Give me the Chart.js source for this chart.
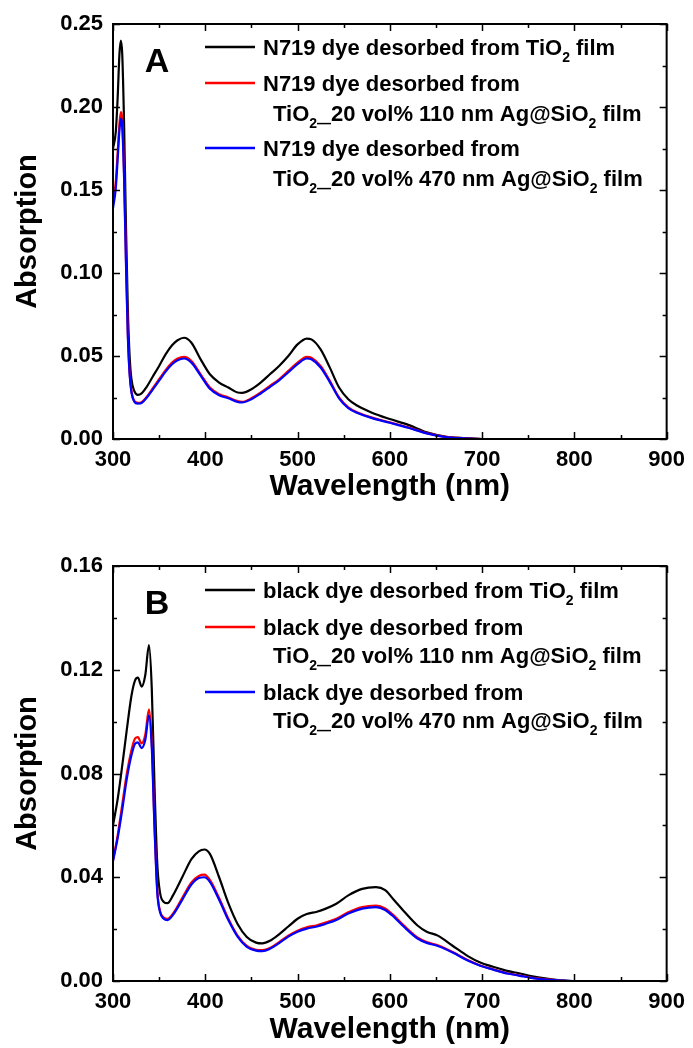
<!DOCTYPE html>
<html>
<head>
<meta charset="utf-8">
<script src="https://cdn.jsdelivr.net/npm/chart.js@4.4.1/dist/chart.umd.min.js"></script>
<style>
  html, body { margin: 0; padding: 0; background: #fff; }
  canvas { display: block; }
</style>
</head>
<body>
<canvas id="chartA" width="693" height="524"></canvas>
<canvas id="chartB" width="693" height="524"></canvas>
<script>
// ---- panel A : N719 dye ----
const wlA = [300,303,305,307,308.5,310,312,314,316,318,320,323,327,331,336,343,350,357,364,370,377,
  385,395,405,415,425,435,440,450,460,470,480,490,500,510,515,525,535,545,555,565,580,
  600,620,640,660,680,700,750,800,850,900];
const n719TiO2 = [.175,.185,.205,.232,.240,.232,.19,.13,.08,.05,.036,.029,.0266,.0275,.031,.0375,.044,.051,.0565,.0595,.061,
  .058,.048,.039,.034,.031,.028,.0278,.030,.034,.039,.044,.050,.057,.0605,.060,.054,.043,.031,.024,.020,.016,
  .012,.0085,.004,.0015,.0005,0,0,0,0,0];
const n719Ag110 = [.143,.155,.172,.19,.197,.192,.16,.11,.065,.04,.029,.023,.0218,.0222,.025,.0305,.036,.0415,.046,.0485,.0495,
  .047,.039,.031,.027,.025,.0228,.0224,.0245,.028,.032,.036,.041,.046,.0495,.049,.044,.035,.025,.019,.016,.013,
  .010,.007,.0035,.0013,.0004,0,0,0,0,0];
const n719Ag470 = [.139,.151,.168,.186,.193,.188,.157,.107,.063,.039,.028,.0225,.0213,.0217,.0245,.0298,.0352,.0406,.045,.0475,.0485,
  .046,.0382,.0303,.0264,.0245,.0223,.022,.024,.0274,.0313,.0353,.0402,.0451,.0485,.048,.0431,.0343,.0245,.0186,.0157,.0127,
  .0098,.0068,.0034,.0012,.0004,0,0,0,0,0];

// ---- panel B : black dye ----
const wlB = [300,305,310,315,320,324,327,331,335,339,342,345,348,351,355,359,365,375,385,393,
  399,405,415,425,435,445,455,462,470,480,490,500,510,521,530,542,555,570,585,595,
  605,615,630,640,652,668,685,698,712,727,740,753,770,785,800,850,900];
const blackTiO2 = [.060,.070,.083,.097,.110,.116,.117,.1135,.118,.1295,.113,.075,.045,.034,.0305,.030,.033,.040,.047,.050,
  .0507,.049,.040,.030,.022,.017,.0148,.0145,.0155,.018,.021,.024,.0258,.0267,.0278,.0298,.033,.0355,.0362,.035,
  .031,.027,.0214,.019,.0175,.0136,.0095,.0071,.0055,.0039,.003,.0019,.0009,.0003,0,0,0];
const blackAg110 = [.0466,.056,.068,.080,.089,.0935,.094,.0916,.095,.1047,.092,.06,.035,.027,.0245,.024,.026,.032,.038,.0405,
  .041,.039,.032,.024,.0175,.0135,.012,.0119,.0127,.015,.0175,.0194,.0207,.0215,.0225,.024,.0265,.0285,.0291,.028,
  .025,.0215,.0168,.015,.0138,.0112,.008,.006,.0045,.003,.0022,.0013,.0006,.0002,0,0,0];
const blackAg470 = [.0462,.055,.066,.078,.087,.0915,.092,.0898,.093,.1024,.09,.059,.034,.0265,.024,.0235,.0255,.0313,.0372,.0397,
  .040,.0382,.0313,.0235,.0171,.0132,.0117,.0115,.0124,.0146,.0171,.019,.0202,.021,.022,.0235,.026,.0279,.0285,.0274,
  .0245,.021,.0164,.0147,.0135,.011,.0078,.0059,.0044,.0029,.0021,.0012,.0005,.0002,0,0,0];

// ticks
const xTicks = [300, 400, 500, 600, 700, 800, 900];
const yTicksA = [0, 0.05, 0.10, 0.15, 0.20, 0.25];
const yTicksB = [0, 0.04, 0.08, 0.12, 0.16];

// legend texts (_{..} = subscript)
const legendA = [
  ['N719 dye desorbed from TiO_{2} film'],
  ['N719 dye desorbed from', 'TiO_{2—}20 vol% 110 nm Ag@SiO_{2} film'],
  ['N719 dye desorbed from', 'TiO_{2—}20 vol% 470 nm Ag@SiO_{2} film']
];
const legendB = [
  ['black dye desorbed from TiO_{2} film'],
  ['black dye desorbed from', 'TiO_{2—}20 vol% 110 nm Ag@SiO_{2} film'],
  ['black dye desorbed from', 'TiO_{2—}20 vol% 470 nm Ag@SiO_{2} film']
];
const colors = ['#000000', '#ff0000', '#0000ff'];

const FONT = "'Liberation Sans', Arial, Helvetica, sans-serif";

function drawRich(ctx, str, x, y, size) {
  // y = vertical centre of capitals
  const base = y + size * 0.36;
  const parts = str.split(/_\{([^}]*)\}/);
  parts.forEach((p, i) => {
    const sub = i % 2 === 1;
    const fs = sub ? Math.round(size * 0.64) : size;
    ctx.font = 'bold ' + fs + 'px ' + FONT;
    ctx.fillText(p, x, sub ? base + size * 0.33 : base);
    x += ctx.measureText(p).width;
  });
}

const framePlugin = {
  id: 'frame',
  afterDatasetsDraw(chart) {
    const { ctx, chartArea: a, scales } = chart;
    const sx = scales.x, sy = scales.y;
    const split = s => {
      const v = s.ticks.map(t => t.value);
      const m = [];
      for (let i = 0; i < v.length - 1; i++) m.push((v[i] + v[i + 1]) / 2);
      return [v, m];
    };
    ctx.save();
    ctx.strokeStyle = '#000';
    ctx.lineWidth = 2;
    ctx.strokeRect(a.left, a.top, a.right - a.left, a.bottom - a.top);
    ctx.lineWidth = 1.5;
    const [xv, xm] = split(sx);
    const [yv, ym] = split(sy);
    ctx.beginPath();
    [[xv, 7], [xm, 4]].forEach(([vals, len]) => vals.forEach(v => {
      const px = Math.round(sx.getPixelForValue(v)) + 0.5;
      ctx.moveTo(px, a.bottom); ctx.lineTo(px, a.bottom - len);
      ctx.moveTo(px, a.top); ctx.lineTo(px, a.top + len);
    }));
    [[yv, 7], [ym, 4]].forEach(([vals, len]) => vals.forEach(v => {
      const py = Math.round(sy.getPixelForValue(v)) + 0.5;
      ctx.moveTo(a.left, py); ctx.lineTo(a.left + len, py);
      ctx.moveTo(a.right, py); ctx.lineTo(a.right - len, py);
    }));
    ctx.stroke();
    ctx.restore();
  },
  afterDraw(chart, args, opts) {
    const ctx = chart.ctx;
    ctx.save();
    ctx.fillStyle = '#000';
    ctx.textBaseline = 'middle';
    ctx.textAlign = 'center';
    ctx.font = 'bold 34px ' + FONT;
    ctx.fillText(opts.letter, opts.letterX, opts.letterY);
    ctx.textAlign = 'left';
    ctx.textBaseline = 'alphabetic';
    let r = 0;
    opts.items.forEach((lines, i) => {
      const y0 = opts.rows[r];
      ctx.strokeStyle = colors[i];
      ctx.lineWidth = 2.5;
      ctx.beginPath();
      ctx.moveTo(205, y0); ctx.lineTo(255, y0);
      ctx.stroke();
      lines.forEach((t, k) => {
        drawRich(ctx, t, k === 0 ? 263 : 273, opts.rows[r], 22);
        r++;
      });
    });
    ctx.restore();
  }
};

function makePanel(id, wl, series, yTicks, yMax, p) {
  const names = ['TiO2', '110 nm', '470 nm'];
  return new Chart(document.getElementById(id), {
    type: 'line',
    data: {
      datasets: series.map((vals, i) => ({
        label: names[i],
        data: wl.map((x, k) => ({ x: x, y: vals[k] })),
        borderColor: colors[i],
        borderWidth: 2.2,
        pointRadius: 0,
        cubicInterpolationMode: 'monotone',
        fill: false,
        order: 3 - i
      }))
    },
    options: {
      responsive: false,
      animation: false,
      devicePixelRatio: 1,
      layout: { padding: { top: p.top, right: 23, left: 0, bottom: 0 } },
      plugins: {
        legend: { display: false },
        tooltip: { enabled: false },
        frame: p.frame
      },
      scales: {
        x: {
          type: 'linear', min: 300, max: 900,
          afterBuildTicks: s => { s.ticks = xTicks.map(v => ({ value: v })); },
          afterFit: s => { s.height = p.xHeight; },
          grid: { display: false, drawTicks: false },
          border: { display: false },
          ticks: { color: '#000', padding: 8, font: { family: FONT, size: 22, weight: 'bold' } },
          title: {
            display: true, text: 'Wavelength (nm)', color: '#000',
            font: { family: FONT, size: 30, weight: 'bold', lineHeight: 1 },
            padding: { top: 0, bottom: p.titlePad }
          }
        },
        y: {
          min: 0, max: yMax,
          afterBuildTicks: s => { s.ticks = yTicks.map(v => ({ value: v })); },
          afterFit: s => { s.width = 113; },
          grid: { display: false, drawTicks: false },
          border: { display: false },
          ticks: {
            color: '#000', padding: 10,
            font: { family: FONT, size: 22, weight: 'bold' },
            callback: v => v.toFixed(2)
          },
          title: {
            display: true, text: 'Absorption', color: '#000',
            font: { family: FONT, size: 29, weight: 'bold', lineHeight: 1 },
            padding: { top: 13, bottom: 0 }
          }
        }
      }
    },
    plugins: [framePlugin]
  });
}

makePanel('chartA', wlA, [n719TiO2, n719Ag110, n719Ag470], yTicksA, 0.25, {
  top: 24, xHeight: 85, titlePad: 22,
  frame: { letter: 'A', letterX: 157, letterY: 63, items: legendA, rows: [47, 83, 113, 148, 178] }
});
makePanel('chartB', wlB, [blackTiO2, blackAg110, blackAg470], yTicksB, 0.16, {
  top: 42, xHeight: 67, titlePad: 3,
  frame: { letter: 'B', letterX: 157, letterY: 81, items: legendB, rows: [66, 103, 131, 168, 196] }
});
</script>
</body>
</html>
